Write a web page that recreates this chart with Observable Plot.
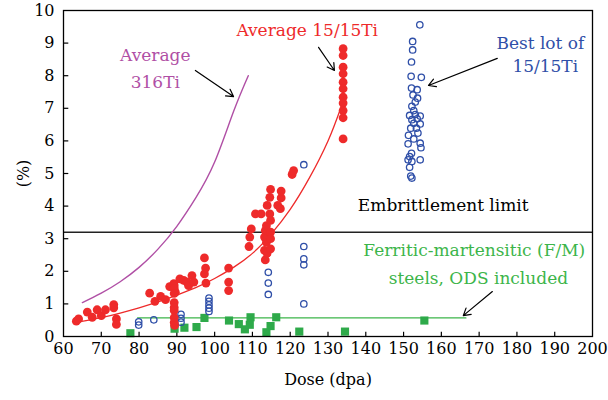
<!DOCTYPE html>
<html><head><meta charset="utf-8">
<script src="https://cdn.jsdelivr.net/npm/d3@7"></script>
<script src="https://cdn.jsdelivr.net/npm/@observablehq/plot@0.6"></script>
<style>body{margin:0;background:#fff}</style>
</head><body><div id="chart"></div>
<script>
// Average 15/15Ti (filled red dots): [dose, %]
const red15 = [
 [63.4,0.47],[64.0,0.54],[66.3,0.75],[67.6,0.59],[68.9,0.82],[70.0,0.64],[71.1,0.82],[73.3,0.98],[73.3,0.88],[74.0,0.54],[74.0,0.37],
 [82.8,1.33],[84.2,1.08],[85.7,1.23],[87.0,1.13],[88.1,1.53],[89.2,1.62],[89.6,1.36],
 [89.3,1.56],[89.3,1.47],[89.3,1.32],[89.3,1.04],[89.3,0.89],[89.3,0.80],[89.3,0.58],[89.3,0.43],[89.4,0.34],
 [90.8,1.77],[91.8,1.72],[92.7,1.67],[93.1,1.56],[94.0,1.87],[94.5,1.67],
 [97.3,2.41],[97.6,2.10],[97.3,1.92],[97.7,1.64],
 [103.7,2.10],[103.7,1.67],[103.7,1.41],
 [109.1,2.76],[109.3,3.05],[109.7,3.30],[110.8,3.76],[112.3,3.76],
 [113.2,2.64],[113.4,2.35],[113.9,2.56],[113.2,3.05],[113.7,2.89],[113.4,3.25],[113.7,3.40],[113.9,4.02],
 [114.6,3.76],[114.8,3.56],[114.8,3.20],[114.8,3.00],[114.8,2.69],[114.6,4.27],[114.8,4.51],
 [116.7,4.02],[117.4,3.92],[117.6,4.25],[117.6,4.46],[120.5,4.97],[120.9,5.09],
 [134.0,8.83],[134.0,8.62],[134.0,8.26],[134.0,8.06],[134.0,7.80],[134.0,7.60],[134.0,7.34],[134.0,7.16],[134.0,6.93],[134.0,6.71],[134.0,6.06]
];
// Best lot of 15/15Ti (open blue circles)
const blueBest = [
 [79.9,0.45],[79.9,0.35],[83.9,0.51],
 [91.1,0.68],[91.1,0.56],[91.1,0.44],
 [98.5,1.18],[98.5,1.08],[98.5,0.97],[98.5,0.87],[98.5,0.77],
 [114.2,1.97],[114.2,1.64],[114.2,1.29],
 [123.6,5.27],[123.6,2.76],[123.6,2.38],[123.6,2.20],[123.6,1.00],
 [154.3,9.56],[152.4,9.05],[152.4,8.79],[152.1,8.42],[152.0,7.98],[154.7,7.95],[152.1,7.62],[153.6,7.57],
 [152.5,7.41],[153.7,7.31],[153.1,7.19],[152.2,7.06],[152.7,6.93],[151.6,6.78],[153.1,6.81],[154.4,6.76],
 [152.2,6.65],[153.6,6.68],[152.7,6.54],[154.4,6.52],[151.9,6.39],[153.4,6.39],[153.8,6.24],[151.3,6.17],
 [152.7,6.06],[151.2,5.91],[154.4,5.93],[154.6,5.79],[152.1,5.62],[151.6,5.52],[151.2,5.42],[152.2,5.37],
 [154.4,5.42],[151.6,5.19],[151.9,4.92],[152.2,4.86]
];
// Ferritic-martensitic steels (green squares)
const greenFM = [
 [77.7,0.10],[89.4,0.24],[92.0,0.27],[95.2,0.29],[97.3,0.57],[103.8,0.49],[106.4,0.38],[108.0,0.22],
 [109.3,0.36],[109.5,0.59],[113.7,0.13],[114.8,0.32],[116.3,0.59],[122.4,0.15],[134.5,0.15],[155.5,0.49]
];
// Trend curves
const curve15 = [[63.5,0.44],[70,0.58],[75,0.72],[80,0.88],[85,1.06],[90,1.27],[95,1.5],[100,1.78],[105,2.12],[110,2.55],[115,3.15],[120,3.9],[125,4.85],[130,6.0],[133.5,7.05]];
const curve316 = [[65,1.04],[70,1.33],[75,1.68],[80,2.12],[85,2.68],[90,3.38],[95,4.25],[100,5.35],[105,6.9],[108.9,8.0]];
const lineFM = [[79.6,0.57],[166.5,0.57]];
const limit = 3.2;
const xTicks = [60,70,80,90,100,110,120,130,140,150,160,170,180,190,200];
const yTicks = [0,1,2,3,4,5,6,7,8,9,10];
// Annotations
const labels = [
 {x:84.3, y:8.62, text:"Average", color:"#b04fa5"},
 {x:84.3, y:7.79, text:"316Ti", color:"#b04fa5"},
 {x:124.5, y:9.39, text:"Average 15/15Ti", color:"#ee2a2a"},
 {x:186.2, y:8.99, text:"Best lot of", color:"#2f4fa8"},
 {x:187.5, y:8.28, text:"15/15Ti", color:"#2f4fa8"},
 {x:160.5, y:4.02, text:"Embrittlement limit", color:"#000"},
 {x:168.7, y:2.64, text:"Ferritic-martensitic (F/M)", color:"#3cb54a"},
 {x:169.8, y:1.78, text:"steels, ODS included", color:"#3cb54a"}
];
const arrows = [
 {x1:94.9, y1:8.16, x2:105.0, y2:7.36},
 {x1:127.5, y1:8.87, x2:131.7, y2:8.16},
 {x1:174.8, y1:8.53, x2:156.6, y2:7.70},
 {x1:173.5, y1:1.38, x2:165.8, y2:0.64}
];

const serif = "DejaVu Serif";
const chart = Plot.plot({
  width: 608, height: 400,
  marginLeft: 63, marginRight: 16, marginTop: 10, marginBottom: 64,
  style: {fontFamily: serif, fontSize: "16px", color: "#000"},
  x: {domain: [60,200]},
  y: {domain: [0,10]},
  marks: [
    Plot.axisX({ticks: xTicks, tickSize: 0, tickPadding: 6, label: "Dose (dpa)", labelAnchor: "center", labelArrow: "none", labelOffset: 48, fontSize: 16}),
    Plot.axisY({ticks: yTicks, tickSize: 0, tickPadding: 9, label: "(%)", labelAnchor: "center", labelArrow: "none", labelOffset: 46, fontSize: 16}),
    Plot.ruleX(xTicks.slice(1,-1), {y1: 0, y2: 0.13, stroke: "#000", strokeWidth: 1.2}),
    Plot.ruleY(yTicks.slice(1,-1), {x1: 60, x2: 61.4, stroke: "#000", strokeWidth: 1.2}),
    Plot.ruleY([limit], {stroke: "#222", strokeWidth: 1.4}),
    Plot.line(lineFM, {x: d=>d[0], y: d=>d[1], stroke: "#3cb54a", strokeWidth: 1.3}),
    Plot.line(curve316, {x: d=>d[0], y: d=>d[1], stroke: "#b04fa5", strokeWidth: 1.4, curve: "natural"}),
    Plot.line(curve15, {x: d=>d[0], y: d=>d[1], stroke: "#ee2a2a", strokeWidth: 1.3, curve: "natural"}),
    Plot.dot(greenFM, {x: d=>d[0], y: d=>d[1], symbol: "square", r: 4.6, fill: "#2eaa4a"}),
    Plot.dot(blueBest, {x: d=>d[0], y: d=>d[1], r: 3.2, stroke: "#2f4fa8", strokeWidth: 1.3, fill: "none"}),
    Plot.dot(red15, {x: d=>d[0], y: d=>d[1], r: 4.4, fill: "#ee2a2a"}),
    Plot.arrow(arrows, {x1:"x1", y1:"y1", x2:"x2", y2:"y2", stroke: "#000", strokeWidth: 1.2, headLength: 10}),
    Plot.text(labels, {x:"x", y:"y", text:"text", fill: d=>d.color, fontSize: 17}),
    Plot.frame({stroke: "#000", strokeWidth: 1.3})
  ]
});
d3.select(chart).selectAll("text").attr("font-family", serif);
document.getElementById("chart").appendChild(chart);
</script></body></html>
